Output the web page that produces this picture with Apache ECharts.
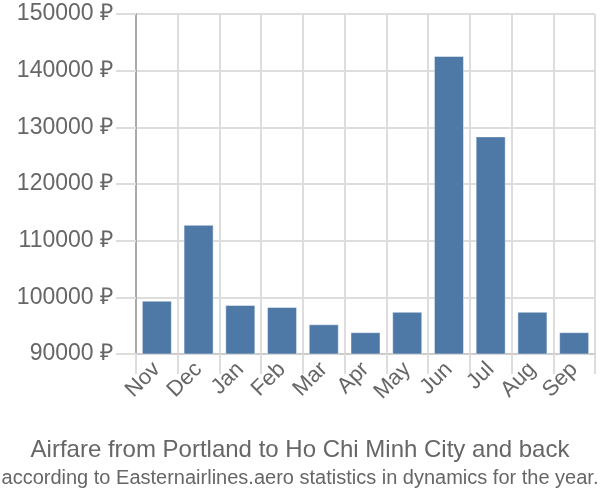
<!DOCTYPE html>
<html><head><meta charset="utf-8">
<script src="https://cdn.jsdelivr.net/npm/echarts@6/dist/echarts.min.js"></script>
<style>html,body{margin:0;padding:0;background:#fff}#c{width:600px;height:500px}</style>
</head><body><div id="c"></div>
<script>
const categories = ['Nov','Dec','Jan','Feb','Mar','Apr','May','Jun','Jul','Aug','Sep'];
const prices = [99400, 112800, 98650, 98300, 95250, 93850, 97450, 142600, 128400, 97450, 93850];
const yTicks = [90000, 100000, 110000, 120000, 130000, 140000, 150000];
const titleText = 'Airfare from Portland to Ho Chi Minh City and back';
const subtitleText = 'according to Easternairlines.aero statistics in dynamics for the year.';

const chart = echarts.init(document.getElementById('c'), null, {renderer:'canvas'});
const font = 'Liberation Sans, Arial, sans-serif';
chart.setOption({
  animation:false,
  textStyle:{fontFamily:font},
  title:[
    {text:titleText, left:'center', top:433, textStyle:{fontSize:24, fontWeight:'normal', color:'#666', fontFamily:font}},
    {text:subtitleText, left:'center', top:463, textStyle:{fontSize:20, fontWeight:'normal', color:'#666', fontFamily:font}}
  ],
  grid:{left:136, right:5, top:14, bottom:146, containLabel:false},
  xAxis:{
    type:'category', data:categories, boundaryGap:true,
    axisLine:{show:true, lineStyle:{color:'#ccc', width:2}},
    axisTick:{show:true, length:20, lineStyle:{color:'#ddd', width:2}},
    splitLine:{show:true, lineStyle:{color:'#ddd', width:2}},
    axisLabel:{rotate:45, fontSize:22, color:'#666', margin:12, fontFamily:font, interval:0}
  },
  yAxis:{
    type:'value', min:yTicks[0], max:yTicks[yTicks.length-1], interval:10000,
    axisLine:{show:true, lineStyle:{color:'#aaa', width:2}},
    axisTick:{show:true, length:20, lineStyle:{color:'#ddd', width:2}},
    splitLine:{show:true, lineStyle:{color:'#ddd', width:2}},
    axisLabel:{fontSize:23, color:'#666', margin:23, fontFamily:font, formatter: v => v + ' ₽'}
  },
  series:[{
    type:'bar', data:prices, barCategoryGap:'28%',
    itemStyle:{color:'#4e79a7', borderColor:'rgba(255,255,255,0.45)', borderWidth:1}
  }]
});
</script></body></html>
